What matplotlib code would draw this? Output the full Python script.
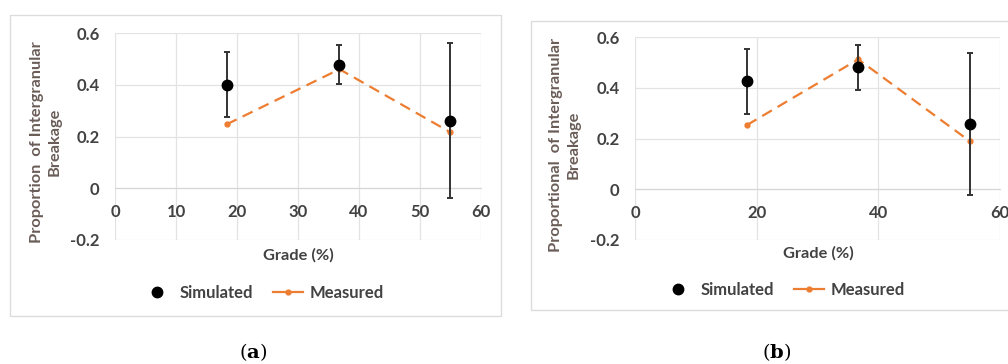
import matplotlib.pyplot as plt
from matplotlib.lines import Line2D
from matplotlib.patches import Rectangle

plt.rcParams['font.family'] = ['Lato', 'DejaVu Sans']
plt.rcParams['mathtext.fontset'] = 'dejavuserif'

# Panel (a)
grade_a = [18.3, 36.8, 55.0]
sim_a = [0.40, 0.478, 0.261]
sim_err_a = [0.125, 0.075, 0.30]
meas_a = [0.247, 0.46, 0.216]

# Panel (b)
grade_b = [18.4, 36.7, 55.0]
sim_b = [0.425, 0.48, 0.257]
sim_err_b = [0.127, 0.087, 0.278]
meas_b = [0.253, 0.512, 0.19]

xticks_a = [0, 10, 20, 30, 40, 50, 60]
xticks_b = [0, 20, 40, 60]
yticks = [-0.2, 0, 0.2, 0.4, 0.6]
ytick_labels = ['-0.2', '0', '0.2', '0.4', '0.6']

TXT = '#424242'
LBL = '#6a5d58'
GRID = '#e3e3e3'
ORANGE = '#ED7D31'

W, H = 1008, 364
fig = plt.figure(figsize=(W / 100, H / 100), dpi=100)


def px(left, top, right, bottom):
    return [left / W, 1 - bottom / H, (right - left) / W, (bottom - top) / H]


def panel(rect, frame, grade, sim, err, meas, xticks, ylabel, ylab_xy, xlab_xy, leg_xy, cap_xy, cap):
    # light border around each panel
    fig.patches.append(Rectangle((frame[0] / W, 1 - frame[3] / H),
                                 (frame[2] - frame[0]) / W, (frame[3] - frame[1]) / H,
                                 transform=fig.transFigure, fill=False,
                                 edgecolor='#dcdcdc', linewidth=1.0))
    ax = fig.add_axes(px(*rect))
    ax.set_xlim(0, 60)
    ax.set_ylim(-0.2, 0.6)
    ax.set_xticks(xticks)
    ax.set_yticks(yticks)
    ax.set_yticklabels(ytick_labels)
    ax.grid(True, color=GRID, linewidth=0.9)
    ax.set_axisbelow(True)
    for s in ['top', 'right', 'left']:
        ax.spines[s].set_visible(False)
    ax.spines['bottom'].set_position(('data', 0))
    ax.spines['bottom'].set_color('#d6d6d6')
    ax.tick_params(axis='both', length=0, labelsize=12, labelcolor=TXT)
    ax.tick_params(axis='x', pad=11)
    ax.tick_params(axis='y', pad=11)
    for t in ax.get_xticklabels() + ax.get_yticklabels():
        t.set_fontweight('bold')

    ax.plot(grade, meas, color=ORANGE, linestyle=(0, (5, 3)), linewidth=1.6,
            marker='o', markersize=3.5, zorder=3)
    ax.errorbar(grade, sim, yerr=err, fmt='o', color='black', markersize=7.5,
                ecolor='#333333', elinewidth=1.4, capsize=2.5, capthick=1.4, zorder=4)

    fig.text(ylab_xy[0] / W, 1 - ylab_xy[1] / H, ylabel, rotation=90, ha='center',
             va='center', multialignment='center', fontsize=11.8, fontweight='bold',
             color=LBL, linespacing=1.3)
    fig.text(xlab_xy[0] / W, 1 - xlab_xy[1] / H, 'Grade (%)', ha='center', va='center',
             fontsize=11.8, fontweight='bold', color=TXT)

    handles = [Line2D([], [], linestyle='none', marker='o', color='black', markersize=7.5),
               Line2D([], [], color=ORANGE, linewidth=1.6, marker='o', markersize=3.5)]
    fig.legend(handles, ['Simulated', 'Measured'], loc='center',
               bbox_to_anchor=(leg_xy[0] / W, 1 - leg_xy[1] / H), ncol=2, frameon=False,
               prop={'size': 12, 'weight': 'bold'}, labelcolor=TXT,
               handlelength=1.8, handletextpad=0.4, columnspacing=1.2)

    fig.text(cap_xy[0] / W, 1 - cap_xy[1] / H, r'(' + r'$\mathbf{' + cap + '}$' + ')',
             ha='center', va='center', fontsize=14, family='DejaVu Serif', color='black')
    return ax


panel((115, 33, 481, 240), (10, 15, 501, 316), grade_a, sim_a, sim_err_a, meas_a, xticks_a,
      'Proportion  of Intergranular\nBreakage', (46, 142), (298, 255), (263, 293), (253, 352), 'a')
panel((635, 37, 1000, 240), (531, 21, 1012, 310), grade_b, sim_b, sim_err_b, meas_b, xticks_b,
      'Proportional  of Intergranular\nBreakage', (565, 145), (818, 253), (784, 290), (777, 352), 'b')

fig.savefig('out.png', dpi=100)
